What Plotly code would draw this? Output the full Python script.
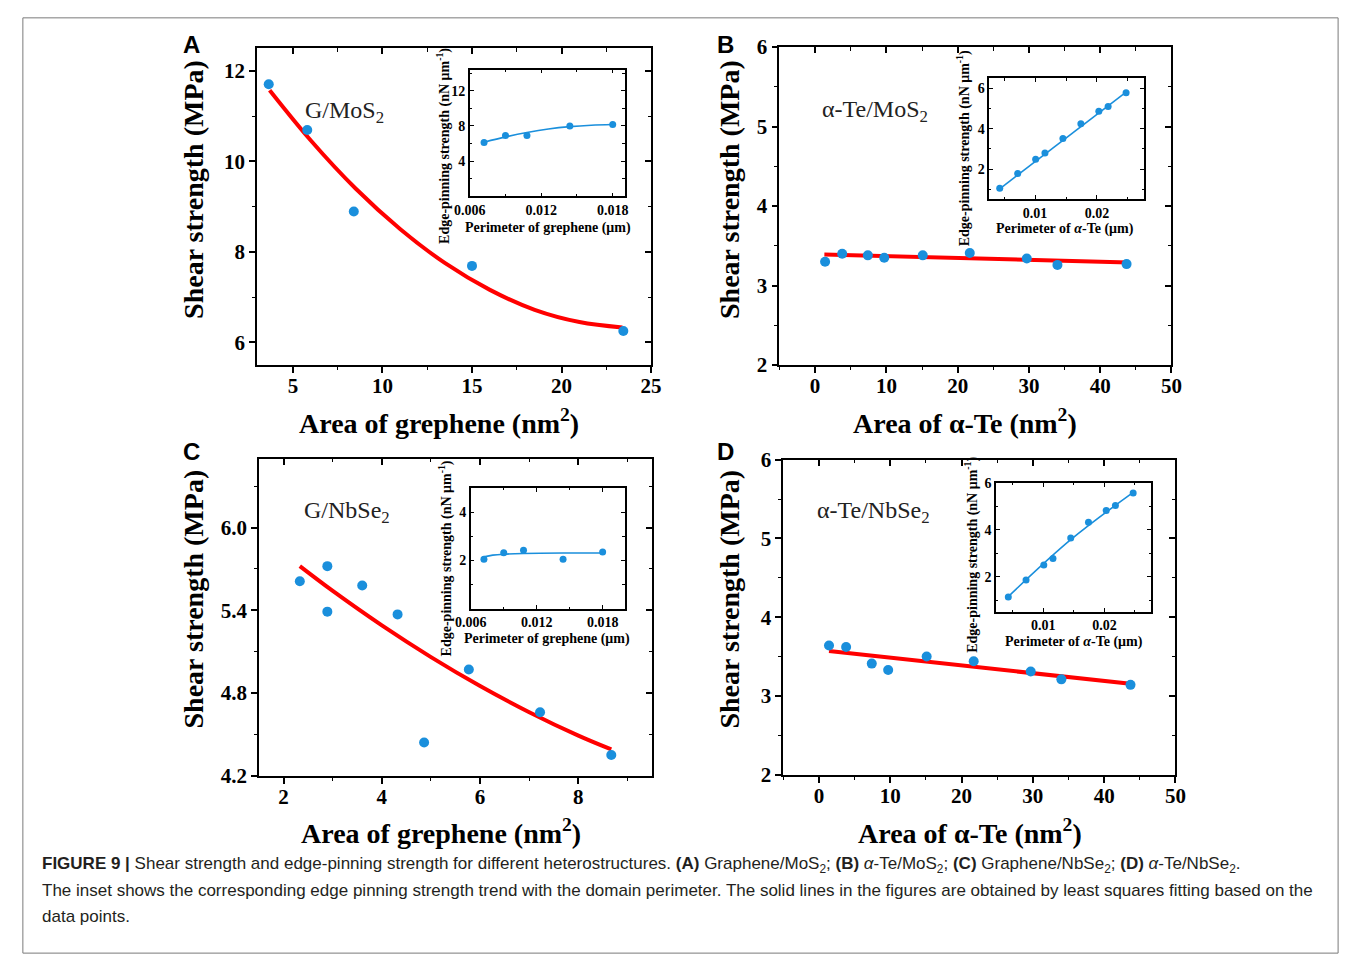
import plotly.graph_objects as go

# ------------------------------------------------------------------
# DATA
# ------------------------------------------------------------------
# Panel A : G/MoS2
a_area = [3.65, 5.8, 8.4, 15.0, 23.45]
a_shear = [11.7, 10.69, 8.89, 7.69, 6.25]
a_fit_area = [3.7, 6.0, 8.5, 11.0, 13.5, 16.0, 18.5, 21.0, 23.4]
a_fit_shear = [11.57, 10.46, 9.40, 8.50, 7.75, 7.16, 6.72, 6.45, 6.33]
a_xticks = [5, 10, 15, 20, 25]
a_yticks = [6, 8, 10, 12]

# graphene perimeter (insets A and C)
g_in_perim = [0.0072, 0.009, 0.0108, 0.0144, 0.018]
a_in_pin = [6.1, 6.9, 6.9, 8.0, 8.15]
a_in_fit_perim = [0.0072, 0.009, 0.0108, 0.0126, 0.0144, 0.0162, 0.018]
a_in_fit_pin = [6.15, 6.75, 7.25, 7.65, 7.92, 8.08, 8.15]
g_in_xticks = [0.006, 0.012, 0.018]
a_in_yticks = [4, 8, 12]

# Panel B : alpha-Te/MoS2
te_area = [1.4, 3.8, 7.4, 9.7, 15.1, 21.7, 29.7, 34.0, 43.7]
b_shear = [3.30, 3.40, 3.38, 3.35, 3.38, 3.41, 3.34, 3.26, 3.27]
b_fit_area = [1.3, 44.0]
b_fit_shear = [3.39, 3.29]
te_xticks = [0, 10, 20, 30, 40, 50]
te_yticks = [2, 3, 4, 5, 6]

# alpha-Te perimeter (insets B and D)
te_in_perim = [0.0043, 0.0072, 0.0101, 0.0116, 0.0145, 0.0174, 0.0203, 0.0218, 0.0247]
b_in_pin = [1.05, 1.78, 2.48, 2.80, 3.52, 4.25, 4.87, 5.10, 5.79]
b_in_fit_perim = [0.0043, 0.0247]
b_in_fit_pin = [1.02, 5.82]
te_in_xticks = [0.01, 0.02]
te_in_yticks = [2, 4, 6]

# Panel C : G/NbSe2
c_area = [2.33, 2.89, 2.89, 3.6, 4.32, 4.86, 5.77, 7.22, 8.67]
c_shear = [5.61, 5.72, 5.39, 5.58, 5.37, 4.44, 4.97, 4.66, 4.35]
c_fit_area = [2.33, 3.0, 4.0, 5.0, 6.0, 7.0, 8.0, 8.67]
c_fit_shear = [5.72, 5.54, 5.29, 5.06, 4.85, 4.66, 4.49, 4.39]
c_xticks = [2, 4, 6, 8]
c_yticks = [4.2, 4.8, 5.4, 6.0]
c_in_pin = [2.05, 2.32, 2.42, 2.05, 2.35]
c_in_fit_perim = [0.0072, 0.008, 0.009, 0.0108, 0.0144, 0.018]
c_in_fit_pin = [2.15, 2.22, 2.26, 2.29, 2.31, 2.31]
c_in_yticks = [2, 4]

# Panel D : alpha-Te/NbSe2
d_shear = [3.64, 3.62, 3.41, 3.33, 3.50, 3.44, 3.31, 3.21, 3.14]
d_fit_area = [1.4, 44.0]
d_fit_shear = [3.57, 3.15]
d_in_pin = [1.13, 1.86, 2.50, 2.78, 3.65, 4.32, 4.83, 5.04, 5.57]
d_in_fit_perim = [0.0043, 0.0145, 0.0247]
d_in_fit_pin = [1.15, 3.58, 5.60]

# ------------------------------------------------------------------
W, H = 1354, 970
SERIF = "Liberation Serif"
SANS = "Liberation Sans"
BLUE = "#1a8fdc"
RED = "#ff0000"


def dx(l, r):
    return [l / W, r / W]


def dy(t, b):
    return [1 - b / H, 1 - t / H]


def px(x):
    return x / W


def py(y):
    return 1 - y / H


panels = [
    dict(k=1, mx=(246, 648), my=(37, 362), xr=[3, 25], yr=[5.5, 12.5],
         xt=a_xticks, yt=a_yticks, xm=2.5, ym=1, yfmt="",
         area=a_area, shear=a_shear, fx=a_fit_area, fy=a_fit_shear,
         ix=(463, 621), iy=(59, 189), ixr=[0.006, 0.019], iyr=[0, 14.4],
         ixt=g_in_xticks, iyt=a_in_yticks, ixm=0.003, iym=2, ixfmt=".3f",
         ip=g_in_perim, ipin=a_in_pin, ifx=a_in_fit_perim, ify=a_in_fit_pin),
    dict(k=4, mx=(779, 1179), my=(36, 362), xr=[-5, 50], yr=[2, 6],
         xt=te_xticks, yt=te_yticks, xm=5, ym=0.5, yfmt="",
         area=te_area, shear=b_shear, fx=b_fit_area, fy=b_fit_shear,
         ix=(993, 1151), iy=(68, 192), ixr=[0.0026, 0.0276], iyr=[0.5, 6.5],
         ixt=te_in_xticks, iyt=te_in_yticks, ixm=0.005, iym=1, ixfmt=".2f",
         ip=te_in_perim, ipin=b_in_pin, ifx=b_in_fit_perim, ify=b_in_fit_pin),
    dict(k=7, mx=(248, 649), my=(458, 783), xr=[1.5, 9.5], yr=[4.2, 6.5],
         xt=c_xticks, yt=c_yticks, xm=1, ym=0.3, yfmt=".1f",
         area=c_area, shear=c_shear, fx=c_fit_area, fy=c_fit_shear,
         ix=(464, 621), iy=(488, 612), ixr=[0.006, 0.020], iyr=[0, 5],
         ixt=g_in_xticks, iyt=c_in_yticks, ixm=0.003, iym=1, ixfmt=".3f",
         ip=g_in_perim, ipin=c_in_pin, ifx=c_in_fit_perim, ify=c_in_fit_pin),
    dict(k=10, mx=(783, 1183), my=(459, 782), xr=[-5, 50], yr=[2, 6],
         xt=te_xticks, yt=te_yticks, xm=5, ym=0.5, yfmt="",
         area=te_area, shear=d_shear, fx=d_fit_area, fy=d_fit_shear,
         ix=(1000, 1158), iy=(483, 615), ixr=[0.0023, 0.0276], iyr=[0.5, 6.0],
         ixt=te_in_xticks, iyt=te_in_yticks, ixm=0.005, iym=1, ixfmt=".2f",
         ip=te_in_perim, ipin=d_in_pin, ifx=d_in_fit_perim, ify=d_in_fit_pin),
]

fig = go.Figure()
layout = {}

main_tickfont = dict(family=SERIF, size=21, color="black", weight="bold")
in_tickfont = dict(family=SERIF, size=14, color="black", weight="bold")

for p in panels:
    k = p["k"]
    ki = k + 1
    ko = k + 2
    # ---- main axes ----
    common = dict(showgrid=False, zeroline=False, showline=True, linecolor="black",
                  linewidth=1.8, mirror=True, ticks="outside", ticklen=6, tickwidth=1.6,
                  tickcolor="black", tickfont=main_tickfont, tickmode="array")
    layout[f"xaxis{k}"] = dict(common, domain=dx(*p["mx"]), range=p["xr"], anchor=f"y{k}",
                               tickvals=p["xt"], ticklabelstandoff=-5,
                               minor=dict(ticks="outside", ticklen=3.5, tickwidth=1.3,
                                          tick0=p["xt"][0], dtick=p["xm"], tickcolor="black"))
    layout[f"yaxis{k}"] = dict(common, domain=dy(*p["my"]), range=p["yr"], anchor=f"x{k}",
                               tickvals=p["yt"], tickformat=p["yfmt"],
                               minor=dict(ticks="outside", ticklen=3.5, tickwidth=1.3,
                                          tick0=p["yt"][0], dtick=p["ym"], tickcolor="black"))
    # ---- top / right inward ticks ----
    over = dict(showgrid=False, zeroline=False, showline=False, ticks="inside", ticklen=6,
                tickwidth=1.6, tickcolor="black", showticklabels=False, tickmode="array")
    layout[f"xaxis{ko}"] = dict(over, overlaying=f"x{k}", side="top", anchor=f"y{k}",
                                range=p["xr"], tickvals=p["xt"],
                                minor=dict(ticks="inside", ticklen=3.5, tickwidth=1.3,
                                           tick0=p["xt"][0], dtick=p["xm"], tickcolor="black"))
    layout[f"yaxis{ko}"] = dict(over, overlaying=f"y{k}", side="right", anchor=f"x{k}",
                                range=p["yr"], tickvals=p["yt"],
                                minor=dict(ticks="inside", ticklen=3.5, tickwidth=1.3,
                                           tick0=p["yt"][0], dtick=p["ym"], tickcolor="black"))
    # ---- inset axes ----
    icommon = dict(showgrid=False, zeroline=False, showline=True, linecolor="black",
                   linewidth=1.5, mirror="ticks", ticks="inside", ticklen=4, tickwidth=1.2,
                   tickcolor="black", tickfont=in_tickfont, tickmode="array")
    layout[f"xaxis{ki}"] = dict(icommon, domain=dx(*p["ix"]), range=p["ixr"], anchor=f"y{ki}",
                                tickvals=p["ixt"], tickformat=p["ixfmt"],
                                minor=dict(ticks="inside", ticklen=2.5, tickwidth=1,
                                           tick0=p["ixt"][0], dtick=p["ixm"], tickcolor="black"))
    layout[f"yaxis{ki}"] = dict(icommon, domain=dy(*p["iy"]), range=p["iyr"], anchor=f"x{ki}",
                                tickvals=p["iyt"],
                                minor=dict(ticks="inside", ticklen=2.5, tickwidth=1,
                                           tick0=p["iyt"][0], dtick=p["iym"], tickcolor="black"))

    # ---- traces ----
    fig.add_trace(go.Scatter(x=p["fx"], y=p["fy"], mode="lines",
                             line=dict(color=RED, width=4, shape="spline"),
                             xaxis=f"x{k}", yaxis=f"y{k}", showlegend=False))
    fig.add_trace(go.Scatter(x=p["area"], y=p["shear"], mode="markers",
                             marker=dict(color=BLUE, size=10, symbol="circle"),
                             xaxis=f"x{k}", yaxis=f"y{k}", showlegend=False))
    fig.add_trace(go.Scatter(x=[], y=[], mode="markers", xaxis=f"x{ko}", yaxis=f"y{ko}",
                             showlegend=False, hoverinfo="skip"))
    fig.add_trace(go.Scatter(x=p["ifx"], y=p["ify"], mode="lines",
                             line=dict(color=BLUE, width=1.6, shape="spline"),
                             xaxis=f"x{ki}", yaxis=f"y{ki}", showlegend=False))
    fig.add_trace(go.Scatter(x=p["ip"], y=p["ipin"], mode="markers",
                             marker=dict(color=BLUE, size=7, symbol="circle"),
                             xaxis=f"x{ki}", yaxis=f"y{ki}", showlegend=False))

annotations = []


def ann(text, x, y, size, family=SERIF, weight="bold", angle=0, xanchor="center",
        yanchor="middle", color="black"):
    annotations.append(dict(text=text, x=px(x), y=py(y), xref="paper", yref="paper",
                            showarrow=False, textangle=angle, xanchor=xanchor,
                            yanchor=yanchor,
                            font=dict(family=family, size=size, color=color, weight=weight)))


# main axis titles
for (xc, yc) in [(181, 182), (728, 182), (181, 602), (728, 602)]:
    ann("Shear strength (MPa)", xc, yc, 28, angle=-90)
ann("Area of grephene (nm<sup>2</sup>)", 432, 420, 28)
ann("Area of α-Te (nm<sup>2</sup>)", 968, 420, 28)
ann("Area of grephene (nm<sup>2</sup>)", 434, 840, 28)
ann("Area of α-Te (nm<sup>2</sup>)", 973, 840, 28)

# inset axis titles
ann("Perimeter of grephene (μm)", 543, 221, 14)
ann("Perimeter of <i>α</i>-Te (μm)", 1070, 223, 14)
ann("Perimeter of grephene (μm)", 542, 643, 14)
ann("Perimeter of <i>α</i>-Te (μm)", 1080, 646, 14)
ann("Edge-pinning strength (nN μm<sup>-1</sup>)", 436, 137, 14, angle=-90)
ann("Edge-pinning strength (nN μm<sup>-1</sup>)", 967, 140, 14, angle=-90)
ann("Edge-pinning strength (nN μm<sup>-1</sup>)", 438, 560, 14, angle=-90)
ann("Edge-pinning strength (nN μm<sup>-1</sup>)", 975, 557, 14, angle=-90)

# heterostructure labels
ann("G/MoS<sub>2</sub>", 293, 103, 24, weight="normal", xanchor="left", color="#222")
ann("α-Te/MoS<sub>2</sub>", 820, 101, 24, weight="normal", xanchor="left", color="#222")
ann("G/NbSe<sub>2</sub>", 292, 513, 24, weight="normal", xanchor="left", color="#222")
ann("α-Te/NbSe<sub>2</sub>", 815, 513, 24, weight="normal", xanchor="left", color="#222")

# panel letters
ann("A", 179, 33, 24, family=SANS)
ann("B", 724, 33, 24, family=SANS)
ann("C", 179, 451, 24, family=SANS)
ann("D", 724, 451, 24, family=SANS)

# caption
cap1 = ("<b>FIGURE 9 |</b> Shear strength and edge-pinning strength for different "
        "heterostructures. <b>(A)</b> Graphene/MoS<sub>2</sub>; <b>(B)</b> <i>α</i>-Te/MoS<sub>2</sub>; "
        "<b>(C)</b> Graphene/NbSe<sub>2</sub>; <b>(D)</b> <i>α</i>-Te/NbSe<sub>2</sub>.")
cap2 = ("The inset shows the corresponding edge pinning strength trend with the domain "
        "perimeter. The solid lines in the figures are obtained by least squares fitting based on the")
cap3 = "data points."
ann(cap1, 24, 875, 17, family=SANS, weight="normal", xanchor="left", color="#231f20")
ann(cap2, 24, 901, 17, family=SANS, weight="normal", xanchor="left", color="#231f20")
ann(cap3, 24, 927, 17, family=SANS, weight="normal", xanchor="left", color="#231f20")

layout.update(
    width=W, height=H, autosize=False,
    margin=dict(l=0, r=0, t=0, b=0),
    paper_bgcolor="white", plot_bgcolor="white",
    showlegend=False,
    annotations=annotations,
    shapes=[dict(type="rect", xref="paper", yref="paper",
                 x0=px(7), x1=px(1349), y0=py(965), y1=py(6),
                 line=dict(color="#7a7a7a", width=1), fillcolor="rgba(0,0,0,0)")],
)
fig.update_layout(**layout)
fig.write_html(
    "out.html",
    post_script=("document.documentElement.style.margin='0';"
                 "document.body.style.margin='0';document.body.style.padding='0';"
                 "document.documentElement.style.overflow='hidden';"),
)
